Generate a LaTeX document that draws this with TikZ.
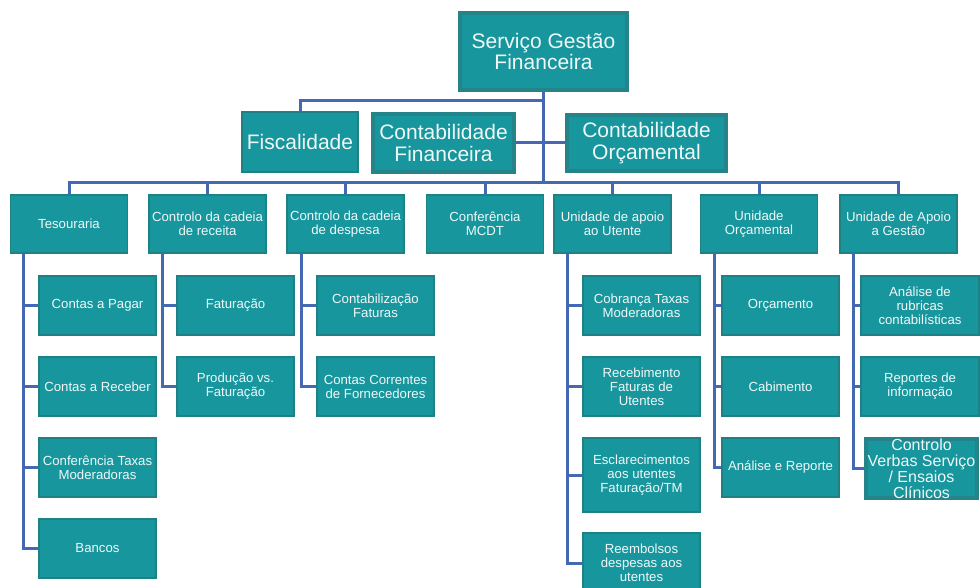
\documentclass[tikz,border=0pt]{standalone}
\usepackage{fontspec}
\setmainfont{Liberation Sans}
\pgfdeclarelayer{bg}
\pgfsetlayers{bg,main}
\definecolor{boxfill}{RGB}{23,150,157}
\definecolor{boxline}{RGB}{31,128,134}
\definecolor{boxthick}{RGB}{36,132,138}
\definecolor{conncol}{RGB}{68,104,178}
\definecolor{txtcol}{RGB}{240,248,248}
\tikzset{
  box/.style={draw=boxline, line width=1.5pt, fill=boxfill, text=txtcol, align=center, inner sep=0pt,
    font=\fontsize{13.2}{13.6}\selectfont},
  bigbox/.style={box, draw=boxthick, line width=4pt, font=\fontsize{21}{21.5}\selectfont},
  midbox/.style={box, font=\fontsize{21}{21.5}\selectfont},
  lvtwo/.style={box, minimum width=117pt, minimum height=58pt},
  kid/.style={box, minimum width=117pt, minimum height=59pt, font=\fontsize{13.2}{14}\selectfont},
  conn/.style={draw=conncol, line width=3pt}
}
\begin{document}
\begin{tikzpicture}[x=1pt,y=-1pt]
\useasboundingbox (0,0) rectangle (980,588);
% top level
\node[bigbox, minimum width=167pt, minimum height=77pt] (top) at (543.5,51.5) {Serviço Gestão\\Financeira};
\node[midbox, minimum width=116pt, minimum height=60pt] (fisc) at (300,142) {Fiscalidade};
\node[bigbox, minimum width=141pt, minimum height=58pt] (cf) at (443.5,143) {Contabilidade\\Financeira};
\node[bigbox, minimum width=159pt, minimum height=56pt] (co) at (646.5,143) {Contabilidade\\Orçamental};
% level 2
\node[lvtwo] (tes) at (69,224) {Tesouraria};
\node[lvtwo] (rec) at (207.5,224) {Controlo da cadeia\\de receita};
\node[lvtwo] (desp) at (345.5,224) {Controlo da cadeia\\de despesa};
\node[lvtwo] (mcdt) at (485,224) {Conferência\\MCDT};
\node[lvtwo] (ute) at (612.5,224) {Unidade de apoio\\ao Utente};
\node[lvtwo] (orc) at (759,224) {Unidade\\Orçamental};
\node[lvtwo] (ges) at (898.5,224) {Unidade de Apoio\\a Gestão};
% Tesouraria children
\node[kid] (tes1) at (97.5,305.5) {Contas a Pagar};
\node[kid] (tes2) at (97.5,386.5) {Contas a Receber};
\node[kid] (tes3) at (97.5,467.5) {Conferência Taxas\\Moderadoras};
\node[kid] (tes4) at (97.5,548.5) {Bancos};
% receita
\node[kid] (rec1) at (235.5,305.5) {Faturação};
\node[kid] (rec2) at (235.5,386.5) {Produção vs.\\Faturação};
% despesa
\node[kid] (desp1) at (375.5,305.5) {Contabilização\\Faturas};
\node[kid] (desp2) at (375.5,386.5) {Contas Correntes\\de Fornecedores};
% utente
\node[kid] (ute1) at (641.5,305.5) {Cobrança Taxas\\Moderadoras};
\node[kid] (ute2) at (641.5,386.5) {Recebimento\\Faturas de\\Utentes};
\node[kid, minimum height=74pt] (ute3) at (641.5,475) {Esclarecimentos\\aos utentes\\Faturação/TM};
\node[kid, minimum height=60pt] (ute4) at (641.5,563) {Reembolsos\\despesas aos\\utentes};
% orcamental
\node[kid] (orc1) at (780.5,305.5) {Orçamento};
\node[kid] (orc2) at (780.5,386.5) {Cabimento};
\node[kid] (orc3) at (780.5,467.5) {Análise e Reporte};
% gestao
\node[kid, minimum width=118pt] (ges1) at (920,305.5) {Análise de\\rubricas\\contabilísticas};
\node[kid, minimum width=118pt] (ges2) at (920,386.5) {Reportes de\\informação};
\node[bigbox, minimum width=111pt, minimum height=59pt, font=\fontsize{16}{16}\selectfont] (ges3) at (921.5,468.5) {Controlo\\Verbas Serviço\\/ Ensaios\\Clínicos};
% coordinates
\coordinate (bus1) at (543.5,101);
\coordinate (bus2) at (543.5,183);
\coordinate (tesv) at (23,0);
\coordinate (recv) at (162,0);
\coordinate (despv) at (301,0);
\coordinate (utev) at (567,0);
\coordinate (orcv) at (714,0);
\coordinate (gesv) at (853,0);
\begin{pgfonlayer}{bg}
\draw[conn] (top.south) -- (bus2);
\draw[conn] (fisc.north) |- (bus1);
\draw[conn] (cf.east) -- (cf.east -| top.south);
\draw[conn] (co.west) -- (co.west -| top.south);
\draw[conn] (tes.north) -- (tes.north |- bus2) -- (ges.north |- bus2) -- (ges.north);
\foreach \n in {rec,desp,mcdt,ute,orc}
  \draw[conn] (\n.north) -- (\n.north |- bus2);
% child buses
\draw[conn] (tes.south -| tesv) -- (tes4.west -| tesv) -- (tes4.west);
\foreach \c in {tes1,tes2,tes3} \draw[conn] (\c.west -| tesv) -- (\c.west);
\draw[conn] (rec.south -| recv) -- (rec2.west -| recv) -- (rec2.west);
\draw[conn] (rec1.west -| recv) -- (rec1.west);
\draw[conn] (desp.south -| despv) -- (desp2.west -| despv) -- (desp2.west);
\draw[conn] (desp1.west -| despv) -- (desp1.west);
\draw[conn] (ute.south -| utev) -- (ute4.west -| utev) -- (ute4.west);
\foreach \c in {ute1,ute2,ute3} \draw[conn] (\c.west -| utev) -- (\c.west);
\draw[conn] (orc.south -| orcv) -- (orc3.west -| orcv) -- (orc3.west);
\foreach \c in {orc1,orc2} \draw[conn] (\c.west -| orcv) -- (\c.west);
\draw[conn] (ges.south -| gesv) -- (ges3.west -| gesv) -- (ges3.west);
\foreach \c in {ges1,ges2} \draw[conn] (\c.west -| gesv) -- (\c.west);
\end{pgfonlayer}
\end{tikzpicture}
\end{document}
